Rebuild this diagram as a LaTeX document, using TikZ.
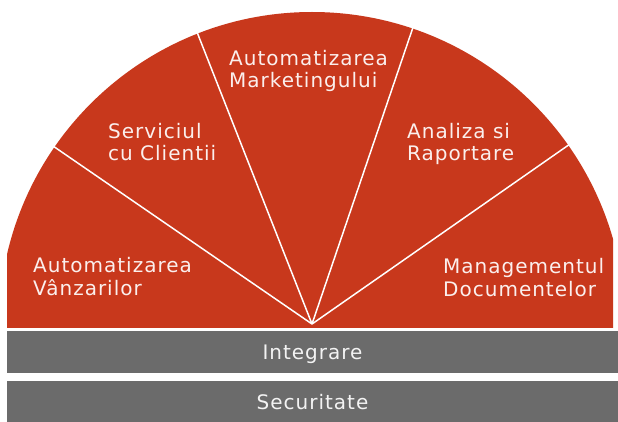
\documentclass[tikz,border=0pt]{standalone}
\usepackage{fontspec}
\setmainfont{DejaVu Sans}
\usetikzlibrary{positioning}
\definecolor{fanred}{HTML}{C8381C}
\definecolor{bandgray}{HTML}{6B6B6B}

\begin{document}
\begin{tikzpicture}[x=1pt,y=-1pt,
    lbl/.style={text=white!92!fanred, align=left, inner sep=0pt, anchor=base west,
        font=\fontsize{20}{22.5}\selectfont\addfontfeature{LetterSpace=5}},
    band/.style={fill=bandgray, text=white!92!bandgray, inner sep=0pt,
        minimum width=611pt, minimum height=42pt, text height=14pt, text depth=0pt,
        font=\fontsize{20}{22}\selectfont\addfontfeature{LetterSpace=5}},
    spoke/.style={draw=white, line width=1.5pt}]
    \useasboundingbox (0,0) rectangle (618,422);

    \coordinate (hub) at (312,324);
    \begin{scope}
        \clip (7,0) rectangle (613,327);
        \fill[fanred] (312,325) circle[radius=313pt];
        \foreach \a [count=\i] in {-34.9,-71.2,-111.5,-145.5} {
            \coordinate (rim\i) at ([shift={(\a:340)}]hub);
            \draw[spoke] (hub) -- (rim\i);
        }
    \end{scope}

    \node[lbl] (vanzari)   at (33,295)  {Automatizarea\\Vânzarilor};
    \node[lbl] (servicii)  at (108,161) {Serviciul\\cu Clientii};
    \node[lbl] (marketing) at (229,88)  {Automatizarea\\Marketingului};
    \node[lbl] (analiza)   at (407,161) {Analiza si\\Raportare};
    \node[lbl] (documente) at (443,296) {Managementul\\Documentelor};

    \node[band] (integrare)  at (312.5,352) {Integrare};
    \node[band] (securitate) at (312.5,402) {Securitate};
\end{tikzpicture}
\end{document}
